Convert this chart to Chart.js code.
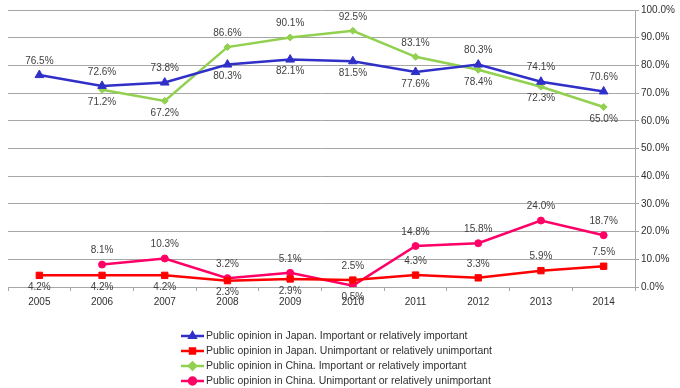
<!DOCTYPE html>
<html>
<head>
<meta charset="utf-8">
<script src="https://cdn.jsdelivr.net/npm/chart.js@4"></script>
<style>
  body { margin: 0; background: #fff; }
  #wrap { position: relative; width: 680px; height: 388px; }
</style>
</head>
<body>
<div id="wrap"><canvas id="opinionChart"></canvas></div>
<script>
// Data
const years = ['2005', '2006', '2007', '2008', '2009', '2010', '2011', '2012', '2013', '2014'];
const japanImportant = [76.5, 72.6, 73.8, 80.3, 82.1, 81.5, 77.6, 80.3, 74.1, 70.6];
const japanUnimportant = [4.2, 4.2, 4.2, 2.3, 2.9, 2.5, 4.3, 3.3, 5.9, 7.5];
const chinaImportant = [null, 71.2, 67.2, 86.6, 90.1, 92.5, 83.1, 78.4, 72.3, 65.0];
const chinaUnimportant = [null, 8.1, 10.3, 3.2, 5.1, 0.5, 14.8, 15.8, 24.0, 18.7];
const yTicks = [0, 10, 20, 30, 40, 50, 60, 70, 80, 90, 100];

// where each value label sits, 'a' above / 'b' below the point
const labelSide = [
  ['a', 'a', 'a', 'b', 'b', 'b', 'b', 'a', 'a', 'a'],
  ['b', 'b', 'b', 'b', 'b', 'a', 'a', 'a', 'a', 'a'],
  ['b', 'b', 'b', 'a', 'a', 'a', 'a', 'b', 'b', 'b'],
  ['a', 'a', 'a', 'a', 'a', 'b', 'a', 'a', 'a', 'a']
];

const FONT = '"Liberation Sans", Arial, sans-serif';

// value labels next to the points
const valueLabels = {
  id: 'valueLabels',
  afterDatasetsDraw(chart) {
    const ctx = chart.ctx;
    ctx.save();
    ctx.font = '10px ' + FONT;
    ctx.fillStyle = '#404040';
    ctx.textAlign = 'center';
    ctx.textBaseline = 'middle';
    chart.data.datasets.forEach((ds, i) => {
      chart.getDatasetMeta(i).data.forEach((pt, j) => {
        const v = ds.data[j];
        if (v == null) return;
        const dy = labelSide[i][j] === 'a' ? -14 : 12;
        ctx.fillText(v.toFixed(1) + '%', pt.x, pt.y + dy);
      });
    });
    ctx.restore();
  }
};

// stacked legend under the chart
const stackedLegend = {
  id: 'stackedLegend',
  afterDraw(chart) {
    const ctx = chart.ctx;
    ctx.save();
    ctx.font = '10.5px ' + FONT;
    ctx.textBaseline = 'middle';
    chart.data.datasets.forEach((ds, i) => {
      const y = 336 + i * 15;
      ctx.strokeStyle = ds.borderColor;
      ctx.lineWidth = 2.5;
      ctx.beginPath();
      ctx.moveTo(181, y);
      ctx.lineTo(204, y);
      ctx.stroke();
      ctx.fillStyle = ds.backgroundColor;
      Chart.helpers.drawPoint(ctx, {
        pointStyle: ds.pointStyle,
        radius: 3.5,
        borderWidth: 1
      }, 192.5, y);
      ctx.fillStyle = '#303030';
      ctx.fillText(ds.label, 206, y);
    });
    ctx.restore();
  }
};

new Chart(document.getElementById('opinionChart'), {
  type: 'line',
  data: {
    labels: years,
    datasets: [
      {
        label: 'Public opinion in Japan. Important or relatively important',
        data: japanImportant,
        borderColor: '#3030C8',
        backgroundColor: '#3030C8',
        pointStyle: 'triangle',
        pointRadius: 5
      },
      {
        label: 'Public opinion in Japan. Unimportant or relatively unimportant',
        data: japanUnimportant,
        borderColor: '#FF0000',
        backgroundColor: '#FF0000',
        pointStyle: 'rect',
        pointRadius: 4.5
      },
      {
        label: 'Public opinion in China. Important or relatively important',
        data: chinaImportant,
        borderColor: '#92D050',
        backgroundColor: '#92D050',
        pointStyle: 'rectRot',
        pointRadius: 3.5
      },
      {
        label: 'Public opinion in China. Unimportant or relatively unimportant',
        data: chinaUnimportant,
        borderColor: '#FF0066',
        backgroundColor: '#FF0066',
        pointStyle: 'circle',
        pointRadius: 3.5
      }
    ]
  },
  options: {
    responsive: true,
    maintainAspectRatio: false,
    animation: false,
    layout: { padding: { top: 10, left: 8, right: 0, bottom: 78 } },
    elements: {
      line: { borderWidth: 2.5, tension: 0 },
      point: { borderWidth: 1, hoverRadius: 5 }
    },
    plugins: {
      legend: { display: false },
      tooltip: { enabled: false }
    },
    scales: {
      x: {
        offset: true,
        grid: { offset: true, drawOnChartArea: false, color: '#A6A6A6', tickLength: 4 },
        border: { color: '#A6A6A6' },
        ticks: { color: '#303030', font: { family: FONT, size: 10 }, padding: 5, maxRotation: 0 },
        afterFit(scale) { scale.height = 23; }
      },
      y: {
        position: 'right',
        min: 0,
        max: 100,
        afterBuildTicks(scale) { scale.ticks = yTicks.map(v => ({ value: v })); },
        grid: { color: '#A6A6A6', lineWidth: 1, tickLength: 4 },
        border: { color: '#A6A6A6' },
        ticks: {
          color: '#303030',
          font: { family: FONT, size: 10 },
          padding: 2,
          callback: v => v.toFixed(1) + '%'
        },
        afterFit(scale) { scale.width = 45; }
      }
    }
  },
  plugins: [valueLabels, stackedLegend]
});
</script>
</body>
</html>
